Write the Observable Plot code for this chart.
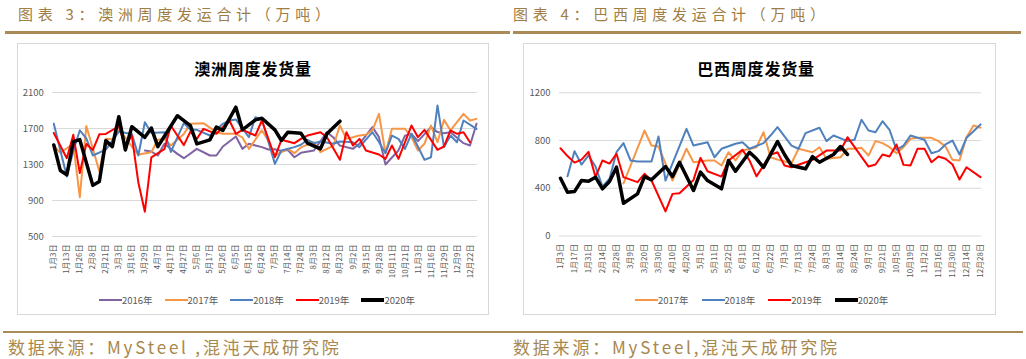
<!DOCTYPE html>
<html><head><meta charset="utf-8">
<script src="https://cdn.jsdelivr.net/npm/d3@7"></script>
<script src="https://cdn.jsdelivr.net/npm/@observablehq/plot@0.6"></script>
<style>
body{margin:0;background:#fff;}
#page{position:relative;width:1026px;height:359px;overflow:hidden;font-family:"Noto Sans CJK SC",sans-serif;background:#fff;}
.ptitle{position:absolute;top:3px;font-size:15px;line-height:22px;color:#9F7D43;white-space:nowrap;letter-spacing:4.7px;}
.rule{position:absolute;height:3px;background:#AA8B56;}
.box{position:absolute;border:1px solid #D9D9D9;box-sizing:border-box;}
.ctitle{position:absolute;font-weight:bold;font-size:16px;line-height:20px;color:#000;white-space:nowrap;letter-spacing:0.8px;transform:translateX(-50%);}
.legend{position:absolute;display:flex;align-items:center;font-size:9.5px;line-height:14px;color:#595959;white-space:nowrap;}
.li{display:flex;align-items:center;}
.sw{display:inline-block;width:23px;}
.src{position:absolute;top:335px;font-size:17px;line-height:24px;color:#A8874D;white-space:nowrap;letter-spacing:2.8px;}
.plot{position:absolute;}
</style></head><body><div id="page"></div>
<script>
// ---------- data ----------
const auLabels = ["1月3日","1月13日","1月26日","2月8日","2月21日","3月3日","3月16日","3月29日","4月7日","4月17日","4月27日","5月6日","5月17日","5月26日","6月5日","6月15日","6月24日","7月5日","7月14日","7月24日","8月3日","8月12日","8月23日","9月2日","9月15日","9月28日","10月11日","10月21日","11月3日","11月16日","11月29日","12月9日","12月22日"];
const auTicks = [500, 900, 1300, 1700, 2100];
const au2016 = [null,null,null,null,null,null,null,null,null,null,null,null,null,null,1456,1444,1400,1530,null,1418,1370,null,1474,null,1400,1400,1500,null,1611,1474,1530,null,1493,1467,1470,1450,1460,1381,1430,null,1456,null,1659,1600,1510,null,1474,1530,null,1715,1604,1300,null,1456,1620,1641,1560,null,1715,1660,1648,1659,null,1537,1511,1752];
const au2017 = [1510,1430,null,1530,937,1728,null,1226,1585,1580,1680,1600,1500,1411,null,1437,1574,1585,1511,null,1640,1752,null,1759,null,1659,1641,null,1641,1600,1474,null,1680,1560,1400,null,1474,1426,1490,null,1548,1437,null,1510,1733,1585,null,1622,1630,1680,1863,1426,1696,null,1696,1604,1456,1530,1733,1548,1796,1678,null,1863,1789,1807];
const au2018 = [1752,null,1167,1450,1680,1590,1400,null,1465,null,1665,null,1640,1400,1769,1650,null,1658,1440,null,1760,1686,1685,null,1622,null,1752,1789,1800,null,1604,1826,1800,null,1307,1456,null,1493,1520,1574,1537,1556,null,1530,1556,null,1548,1493,null,1659,1550,1426,1622,1585,1474,1641,null,1352,1381,1956,1493,1622,1548,1789,null,1696];
const au2019 = [1650,null,1370,1630,1205,1528,1460,1635,1640,null,1725,1500,1621,1100,775,1380,null,1470,1730,null,1515,1665,1585,1696,null,1641,null,1789,1641,1685,null,1622,1789,null,1381,1574,null,1537,1585,1622,null,1659,1604,null,1352,1659,1511,1585,1456,null,1411,1363,1511,1363,null,1733,1604,1685,null,1463,1500,1678,1641,1659,1548,null];
const au2020 = [1517,1234,1186,1554,1576,null,1068,1112,1565,1499,1831,1462,1720,null,1602,1705,1499,null,null,1842,null,1733,1530,null,1574,1715,1678,null,1937,1685,null,1796,1814,null,1685,1567,1659,null,1648,1537,null,1474,1641,null,1781,null,null,null,null,null,null,null,null,null,null,null,null,null,null,null,null,null,null,null,null,null];

const brLabels = ["1月3日","1月17日","1月31日","2月14日","2月28日","3月9日","3月20日","3月30日","4月10日","4月20日","5月1日","5月11日","5月22日","6月1日","6月12日","6月22日","7月3日","7月13日","7月24日","8月3日","8月14日","8月24日","9月7日","9月21日","10月5日","10月19日","11月2日","11月16日","11月30日","12月14日","12月28日"];
const brTicks = [0, 400, 800, 1200];
const br2017 = [null,null,null,null,null,null,null,null,null,440,null,null,884,758,750,null,465,null,731,618,null,633,633,591,702,633,716,null,744,870,660,640,null,610,731,null,702,744,647,null,660,731,731,739,675,795,778,744,694,744,815,823,823,823,795,750,638,633,828,926,907];
const br2018 = [null,500,711,599,675,582,414,480,702,778,633,624,null,624,834,465,null,null,898,758,null,786,660,731,null,773,786,731,null,778,842,912,null,758,731,862,null,907,795,842,null,795,806,974,884,870,962,890,722,758,842,823,806,694,711,767,800,683,823,878,935];
const br2019 = [735,670,615,640,705,495,633,607,689,493,null,451,521,465,null,206,353,358,null,470,655,543,null,498,633,null,722,633,500,null,680,702,591,576,null,618,638,null,716,null,716,828,null,null,582,599,683,666,767,596,591,731,731,618,666,647,599,473,576,null,493];
const br2020 = [484,367,372,465,459,493,395,456,577,274,null,353,498,471,null,582,498,618,null,381,535,465,null,395,633,543,null,702,647,575,null,792,683,591,null,563,666,618,null,683,750,683,null,null,null,null,null,null,null,null,null,null,null,null,null,null,null,null,null,null,null];

const colors = {"2016年":"#8064A2","2017年":"#F79646","2018年":"#4F81BD","2019年":"#FF0000","2020年":"#000000"};

// ---------- layout ----------
const page = document.getElementById("page");
function el(cls, style, text){const d=document.createElement("div");d.className=cls;Object.assign(d.style,style);if(text!=null)d.textContent=text;page.appendChild(d);return d;}

el("ptitle",{left:"18px"},"图表 3：澳洲周度发运合计（万吨）");
el("ptitle",{left:"513px"},"图表 4：巴西周度发运合计（万吨）");
el("rule",{left:"5px",top:"31px",width:"505px"});
el("rule",{left:"513px",top:"31px",width:"508px"});
el("box",{left:"17px",top:"43px",width:"472px",height:"272px"});
el("box",{left:"523px",top:"43px",width:"473px",height:"272px"});
el("ctitle",{left:"253px",top:"58px"},"澳洲周度发货量");
el("ctitle",{left:"756px",top:"58px"},"巴西周度发货量");
el("rule",{left:"3px",top:"331px",width:"1020px",height:"2px"});
el("src",{left:"8px"},"数据来源：MySteel ,混沌天成研究院");
el("src",{left:"513px"},"数据来源：MySteel,混沌天成研究院");

function chart(o){
  const n = o.series[0].values.length;
  const marks = [Plot.ruleY(o.yTicks,{stroke:"#D9D9D9",strokeWidth:1,insetLeft:-1,insetRight:-1})];
  for (const s of o.series){
    const data = s.values.map((v,i)=>({i,v})).filter(d=>d.v!=null);
    marks.push(Plot.line(data,{x:"i",y:"v",stroke:colors[s.name],strokeWidth:s.name==="2020年"?3.5:2,strokeLinejoin:"round",strokeLinecap:"round"}));
  }
  marks.push(Plot.axisY({ticks:o.yTicks,tickFormat:d=>String(d),tickSize:0,tickPadding:10,fontSize:9.5,label:null}));
  marks.push(Plot.axisX({ticks:o.labels.map((_,k)=>2*k),tickFormat:d=>o.labels[d/2],tickRotate:-90,tickSize:0,tickPadding:8,fontSize:8,label:null}));
  const svg = Plot.plot({width:o.width,height:o.height,marginLeft:o.ml,marginRight:o.mr,marginTop:o.mt,marginBottom:o.mb,
    x:{type:"linear",domain:[0,n-1]},y:{domain:o.yDomain},
    style:{background:"transparent",color:"#595959",fontFamily:"'Noto Sans CJK SC',sans-serif",overflow:"visible"},marks});
  const wrap = el("plot",{left:o.left+"px",top:o.top+"px"});
  wrap.appendChild(svg);
}
function legend(names, left, gap){
  const lg = el("legend",{left:left+"px",top:"293px",gap:gap+"px"});
  for (const nm of names){
    const it=document.createElement("div");it.className="li";
    const sw=document.createElement("span");sw.className="sw";sw.style.borderTop=(nm==="2020年"?4:2.5)+"px solid "+colors[nm];
    const tx=document.createElement("span");tx.textContent=nm;
    it.appendChild(sw);it.appendChild(tx);lg.appendChild(it);
  }
}

chart({left:0,top:80,width:510,height:200,ml:53.3,mr:34,mt:12,mb:44,yDomain:[500,2100],yTicks:auTicks,labels:auLabels,
  series:[{name:"2016年",values:au2016},{name:"2017年",values:au2017},{name:"2018年",values:au2018},{name:"2019年",values:au2019},{name:"2020年",values:au2020}]});
chart({left:510,top:80,width:516,height:200,ml:50,mr:46,mt:12.3,mb:44.5,yDomain:[0,1200],yTicks:brTicks,labels:brLabels,
  series:[{name:"2017年",values:br2017},{name:"2018年",values:br2018},{name:"2019年",values:br2019},{name:"2020年",values:br2020}]});
legend(["2016年","2017年","2018年","2019年","2020年"],99,12);
legend(["2017年","2018年","2019年","2020年"],635,13);
</script></body></html>
